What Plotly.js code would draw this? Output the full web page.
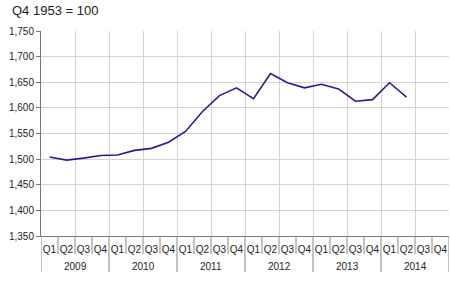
<!DOCTYPE html>
<html>
<head>
<meta charset="utf-8">
<script src="https://cdn.plot.ly/plotly-3.0.1.min.js"></script>
<style>html,body{margin:0;padding:0;background:#fff;}#chart{width:450px;height:291px;}</style>
</head>
<body>
<div id="chart"></div>
<script>
var years = ["2009","2010","2011","2012","2013","2014"];
var quarters = ["Q1","Q2","Q3","Q4"];
var values = [
  1504, 1498, 1502, 1507,
  1508, 1517, 1521, 1533,
  1554, 1593, 1624, 1639,
  1618, 1667, 1649, 1639,
  1646, 1637, 1613, 1616,
  1649, 1621, null, null
];
var yTicks = [1350, 1400, 1450, 1500, 1550, 1600, 1650, 1700, 1750];

var inner = [], idx = [];
years.forEach(function(y){ quarters.forEach(function(q){ inner.push(q); idx.push(idx.length); }); });
var nQ = quarters.length, n = idx.length;
var plotH = 205, plotW = 408;

var font = {family: "Liberation Sans, Arial, sans-serif", size: 10, color: "#222"};

var traces = [
  {x: idx, y: values.map(function(){return null;}), xaxis: "x2", yaxis: "y", mode: "lines",
   hoverinfo: "skip", showlegend: false},
  {x: idx, y: values, type: "scatter", mode: "lines",
   line: {color: "#1f1f8f", width: 1.6}, connectgaps: false, showlegend: false}
];

var shapes = [];
for (var i = 0; i <= n; i++) {
  var isYear = (i % nQ === 0);
  shapes.push({type: "line", xref: "x", yref: "paper", x0: i - 0.5, x1: i - 0.5,
    y0: 0, y1: -(isYear ? 36 : 18) / plotH,
    line: {color: "#888", width: 1}});
}
var annotations = years.map(function(y, k){
  return {text: y, xref: "x", yref: "paper", x: k * nQ + (nQ - 1) / 2, y: -30 / plotH,
    xanchor: "center", yanchor: "middle", showarrow: false, font: font};
});
annotations.push({
  text: "Q4 1953 = 100", xref: "paper", yref: "paper", x: -30/plotW, y: 1 + 20/plotH,
  xanchor: "left", yanchor: "middle", showarrow: false, borderpad: 0,
  font: {family: "Liberation Sans, Arial, sans-serif", size: 13, color: "#222"}
});

var layout = {
  width: 450, height: 291,
  margin: {l: 41, r: 1, t: 31, b: 55},
  paper_bgcolor: "#fff", plot_bgcolor: "#fff",
  font: font,
  showlegend: false,
  xaxis: {
    type: "linear",
    range: [-0.5, n - 0.5], autorange: false,
    tickvals: idx, ticktext: inner, tickangle: 0,
    showgrid: false, zeroline: false,
    ticks: "", ticklabelstandoff: 4,
    showline: true, linecolor: "#777", linewidth: 1,
    tickfont: font
  },
  xaxis2: {
    overlaying: "x", type: "linear", range: [-0.5, n - 0.5], autorange: false,
    tick0: -0.5, dtick: 2, showgrid: true, gridcolor: "#d4d4d4", gridwidth: 1,
    showticklabels: false, ticks: "", zeroline: false, showline: false
  },
  yaxis: {
    range: [1350, 1750], tickvals: yTicks, tickformat: ",d",
    showgrid: true, gridcolor: "#d4d4d4", gridwidth: 1,
    ticks: "outside", ticklen: 4, tickcolor: "#777",
    showline: true, linecolor: "#777", linewidth: 1,
    zeroline: false, tickfont: font
  },
  shapes: shapes,
  annotations: annotations
};

Plotly.newPlot("chart", traces, layout, {displayModeBar: false, staticPlot: true});
</script>
</body>
</html>
